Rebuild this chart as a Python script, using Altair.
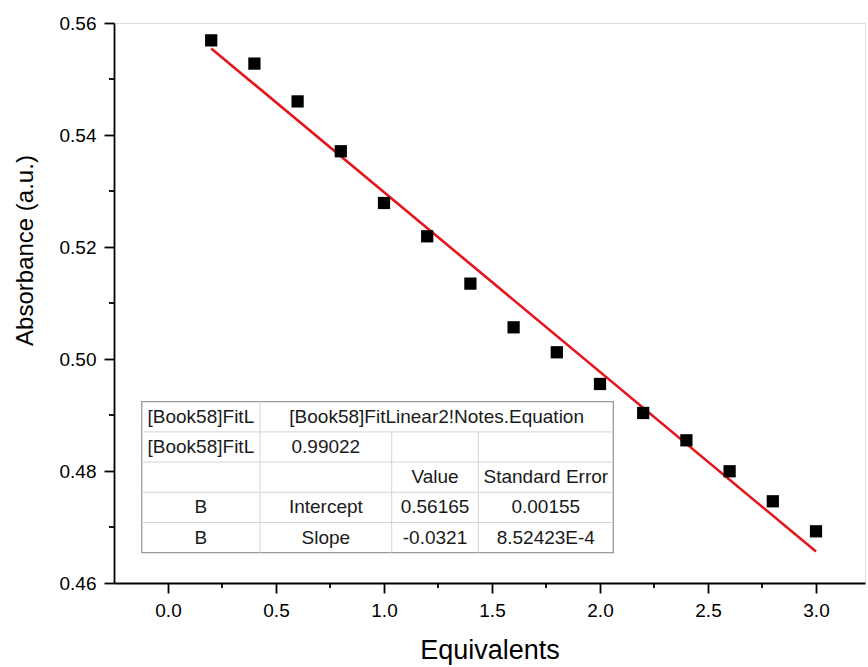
import altair as alt
import pandas as pd

# ---------------- data ----------------
equivalents = [0.2, 0.4, 0.6, 0.8, 1.0, 1.2, 1.4, 1.6, 1.8, 2.0, 2.2, 2.4, 2.6, 2.8, 3.0]
absorbance = [0.5569, 0.55275, 0.5460, 0.5371, 0.52786, 0.52191, 0.51346, 0.50566,
              0.5012, 0.49554, 0.49036, 0.48548, 0.47995, 0.47459, 0.46923]

x_major = [0.0, 0.5, 1.0, 1.5, 2.0, 2.5, 3.0]
x_minor = [0.25, 0.75, 1.25, 1.75, 2.25, 2.75]
y_major = [0.46, 0.48, 0.50, 0.52, 0.54, 0.56]
y_minor = [0.47, 0.49, 0.51, 0.53, 0.55]

table_col0 = ["[Book58]FitL", "[Book58]FitL", "", "B", "B"]
table_col1 = ["[Book58]FitLinear2!Notes.Equation", "0.99022", "", "Intercept", "Slope"]
table_col2 = ["", "", "Value", "0.56165", "-0.0321"]
table_col3 = ["", "", "Standard Error", "0.00155", "8.52423E-4"]

# ---------------- layout constants ----------------
W, H = 751, 560
PAD_L, PAD_T = 114, 23
X_DOMAIN = [-0.25, -0.25 + W / 216.0]
Y_DOMAIN = [0.46, 0.56]
FONT = "Liberation Sans"

col_edges = [27.7, 146.0, 277.7, 364.3, 499.3]
row_top, row_h = 378.7, 30.2

df = pd.DataFrame({"x": equivalents, "y": absorbance})

xs = alt.Scale(domain=X_DOMAIN, nice=False, zero=False)
ys = alt.Scale(domain=Y_DOMAIN, nice=False, zero=False)

x_axis = alt.Axis(values=x_major, format=".1f", tickSize=10, tickWidth=1.8,
                  domainWidth=1.8, domainColor="black", tickColor="black",
                  labelFontSize=19, labelFont=FONT, labelColor="black", labelPadding=8,
                  title="Equivalents", titleFont=FONT, titleFontSize=27,
                  titleFontWeight="normal", titleColor="black",
                  titleY=54, titleBaseline="top", grid=False)
y_axis = alt.Axis(values=y_major, format=".2f", tickSize=10, tickWidth=1.8,
                  domainWidth=1.8, domainColor="black", tickColor="black",
                  labelFontSize=19, labelFont=FONT, labelColor="black", labelPadding=8,
                  title="Absorbance (a.u.)", titleFont=FONT, titleFontSize=24,
                  titleFontWeight="normal", titleColor="black",
                  titleX=-89, titleY=227, titleBaseline="middle", grid=False)

points = alt.Chart(df).mark_square(size=150, color="black", opacity=1).encode(
    x=alt.X("x:Q", scale=xs, axis=x_axis),
    y=alt.Y("y:Q", scale=ys, axis=y_axis),
)

fit = alt.Chart(df).transform_regression(
    "x", "y", method="linear", extent=[0.2, 3.0]
).mark_line(color="#e3161b", strokeWidth=2.6).encode(
    x=alt.X("x:Q", scale=xs, axis=x_axis),
    y=alt.Y("y:Q", scale=ys, axis=y_axis),
)

xminor = alt.Chart(pd.DataFrame({"x": x_minor})).mark_rule(color="black", strokeWidth=1.8).encode(
    x=alt.X("x:Q", scale=xs, axis=x_axis), y=alt.value(H), y2=alt.value(H + 5)
)
yminor = alt.Chart(pd.DataFrame({"y": y_minor})).mark_rule(color="black", strokeWidth=1.8).encode(
    y=alt.Y("y:Q", scale=ys, axis=y_axis), x=alt.value(-5), x2=alt.value(0)
)

data_layer = alt.layer(fit, points, xminor, yminor)

# ---------------- fit-results table ----------------
cells = []
cols = [table_col0, table_col1, table_col2, table_col3]
for r in range(5):
    for c in range(4):
        t = cols[c][r]
        if not t:
            continue
        if r == 0 and c == 1:
            cx = (col_edges[1] + col_edges[4]) / 2
        else:
            cx = (col_edges[c] + col_edges[c + 1]) / 2
        cy = row_top + row_h * (r + 0.5)
        cells.append({"t": t, "px": cx, "py": cy})
cells_df = pd.DataFrame(cells)

tbl_bottom = row_top + 5 * row_h
rules = []
for r in range(1, 5):
    yy = row_top + r * row_h
    rules.append({"x1": col_edges[0], "x2": col_edges[4], "y1": yy, "y2": yy})
rules.append({"x1": col_edges[1], "x2": col_edges[1], "y1": row_top, "y2": tbl_bottom})
for c in (2, 3):
    rules.append({"x1": col_edges[c], "x2": col_edges[c], "y1": row_top + row_h, "y2": tbl_bottom})
rules_df = pd.DataFrame(rules)

box_df = pd.DataFrame([{"x1": col_edges[0], "x2": col_edges[4], "y1": row_top, "y2": tbl_bottom}])

box = alt.Chart(box_df).mark_rect(fill="white", stroke="#9a9a9a", strokeWidth=1.3).encode(
    x=alt.X("x1:Q", scale=None, axis=None), x2="x2:Q",
    y=alt.Y("y1:Q", scale=None, axis=None), y2="y2:Q",
)
inner = alt.Chart(rules_df).mark_rule(color="#d4d4d4", strokeWidth=1).encode(
    x=alt.X("x1:Q", scale=None, axis=None), x2="x2:Q",
    y=alt.Y("y1:Q", scale=None, axis=None), y2="y2:Q",
)
texts = alt.Chart(cells_df).mark_text(font=FONT, fontSize=19, color="#1a1a1a",
                                      align="center", baseline="middle").encode(
    x=alt.X("px:Q", scale=None, axis=None),
    y=alt.Y("py:Q", scale=None, axis=None),
    text="t:N",
)

table_layer = alt.layer(box, inner, texts)

chart = alt.layer(data_layer, table_layer).resolve_scale(
    x="independent", y="independent"
).properties(
    width=W, height=H,
    autosize=alt.AutoSizeParams(type="none"),
    padding={"left": PAD_L, "top": PAD_T, "right": 868 - PAD_L - W, "bottom": 667 - PAD_T - H},
).configure_view(strokeWidth=0, stroke="transparent").configure_axis(grid=False).configure(background="white")

chart.save("out.html", embed_options={"renderer": "svg", "actions": False})
